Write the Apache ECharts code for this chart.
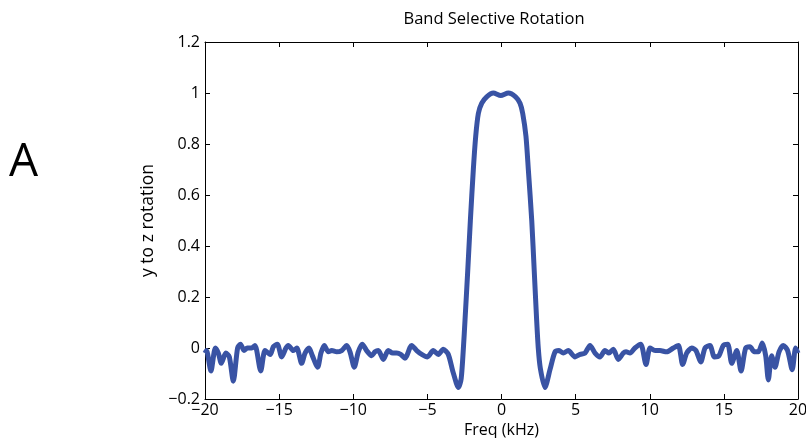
<!DOCTYPE html>
<html>
<head>
<meta charset="utf-8">
<script src="https://cdn.jsdelivr.net/npm/echarts@6/dist/echarts.min.js"></script>
<style>html,body{margin:0;padding:0;background:#fff;}#c{width:806px;height:438px;}</style>
</head>
<body>
<div id="c"></div>
<script>
var freqKHz = [-20.0,-19.9,-19.6,-19.3,-19.1,-18.9,-18.6,-18.36,-18.09,-17.8,-17.6,-17.37,-17.15,-16.85,-16.63,-16.24,-15.95,-15.6,-15.39,-15.12,-14.83,-14.54,-14.38,-14.04,-13.81,-13.48,-13.25,-12.98,-12.76,-12.4,-12.18,-11.95,-11.68,-11.45,-11.12,-10.78,-10.44,-10.22,-9.93,-9.66,-9.39,-9.1,-8.76,-8.53,-8.31,-7.97,-7.64,-7.34,-7.07,-6.8,-6.51,-6.06,-5.72,-5.38,-5.0,-4.6,-4.26,-3.93,-3.59,-3.29,-2.9,-2.72,-2.57,-2.46,-2.28,-2.1,-1.9,-1.74,-1.56,-1.33,-1.0,-0.55,-0.05,0.46,0.95,1.25,1.43,1.65,1.81,2.04,2.21,2.37,2.48,2.62,2.93,3.27,3.61,3.88,4.17,4.5,4.96,5.3,5.63,5.97,6.31,6.64,6.98,7.25,7.54,7.88,8.22,8.4,8.67,9.0,9.39,9.75,10.02,10.36,10.69,11.14,11.59,11.93,12.22,12.49,12.83,13.12,13.44,13.73,14.06,14.36,14.67,14.96,15.26,15.53,15.87,16.16,16.47,16.76,17.05,17.32,17.59,17.82,18.0,18.22,18.45,18.72,19.01,19.3,19.61,19.84,20.0];
var rotation = [-0.02,-0.01,-0.09,0.0,-0.02,-0.06,-0.02,-0.035,-0.13,0.0,0.015,-0.01,0.0,0.0,0.01,-0.09,-0.01,-0.025,0.005,0.015,-0.035,0.0,0.01,-0.01,0.0,-0.06,-0.02,0.0,-0.03,-0.075,-0.02,0.01,-0.015,-0.01,-0.015,-0.01,0.01,-0.015,-0.075,-0.015,0.015,-0.01,-0.03,-0.015,-0.01,-0.045,-0.01,-0.02,-0.02,-0.025,-0.04,0.01,-0.01,-0.025,-0.035,-0.01,-0.025,-0.005,-0.025,-0.09,-0.155,-0.12,0.0,0.11,0.30,0.5,0.70,0.83,0.92,0.96,0.985,1.0,0.99,1.0,0.985,0.96,0.92,0.83,0.70,0.5,0.30,0.11,0.0,-0.08,-0.155,-0.085,-0.015,-0.01,-0.02,-0.01,-0.035,-0.025,-0.02,0.01,-0.02,-0.035,-0.01,-0.02,-0.005,-0.045,-0.02,-0.015,-0.02,0.0,0.015,-0.065,0.0,-0.01,-0.01,-0.015,0.0,0.01,-0.065,-0.02,0.0,-0.01,-0.055,0.0,0.01,-0.035,-0.03,0.01,0.015,-0.06,-0.01,-0.09,0.0,0.005,-0.015,-0.015,0.02,-0.03,-0.125,-0.03,-0.075,-0.015,0.01,-0.01,-0.085,0.0,-0.02];
var xTicks = [-20,-15,-10,-5,0,5,10,15,20];
var yTicks = [-0.2,0,0.2,0.4,0.6,0.8,1,1.2];
var titleText = 'Band Selective Rotation';
var xName = 'Freq (kHz)';
var yName = 'y to z rotation';
var panelLabel = 'A';

var FONT = '"Open Sans", "DejaVu Sans", sans-serif';
var pts = freqKHz.map(function(x,i){return [x, rotation[i]];});
function fmt(v){ var s = String(Math.round(v*10)/10); return s.replace('-', '\u2212'); }
var axisCommon = {
  type:'value', splitLine:{show:false},
  axisLine:{show:true, onZero:false, lineStyle:{color:'#000', width:1}},
  axisTick:{show:true, inside:true, length:5, lineStyle:{color:'#000'}},
  minorTick:{show:false}
};
var chart = echarts.init(document.getElementById('c'), null, {renderer:'canvas'});
chart.setOption({
  animation:false,
  backgroundColor:'#fff',
  grid:{left:205, right:8, top:42, bottom:39, containLabel:false, outerBoundsMode:'none'},
  graphic:[
    {type:'text', left:9, top:140, style:{text:panelLabel, font:'46px ' + FONT, fill:'#000'}},
    {type:'text', x:494, y:19, style:{text:titleText, font:'16.5px ' + FONT, fill:'#000', textAlign:'center', textVerticalAlign:'middle'}}
  ],
  xAxis:[
    Object.assign({}, axisCommon, {min:xTicks[0], max:xTicks[xTicks.length-1], interval:5, position:'bottom',
      name:xName, nameLocation:'middle', nameGap:21,
      nameTextStyle:{fontFamily:FONT, fontSize:16, color:'#000'},
      axisLabel:{fontFamily:FONT, fontSize:16, color:'#000', margin:3, formatter:fmt}}),
    Object.assign({}, axisCommon, {min:xTicks[0], max:xTicks[xTicks.length-1], interval:5, position:'top',
      axisLabel:{show:false}})
  ],
  yAxis:[
    Object.assign({}, axisCommon, {min:-0.2, max:1.2, interval:0.2, position:'left',
      name:yName, nameLocation:'middle', nameGap:42, nameRotate:90,
      nameTextStyle:{fontFamily:FONT, fontSize:17.5, color:'#000'},
      axisLabel:{fontFamily:FONT, fontSize:16, color:'#000', margin:5, formatter:fmt}}),
    Object.assign({}, axisCommon, {min:-0.2, max:1.2, interval:0.2, position:'right',
      axisLabel:{show:false}})
  ],
  series:[{type:'line', data:pts, xAxisIndex:0, yAxisIndex:0, showSymbol:false, smooth:0.25,
    clip:true, lineStyle:{color:'#3953a4', width:5}}]
});
</script>
</body>
</html>
